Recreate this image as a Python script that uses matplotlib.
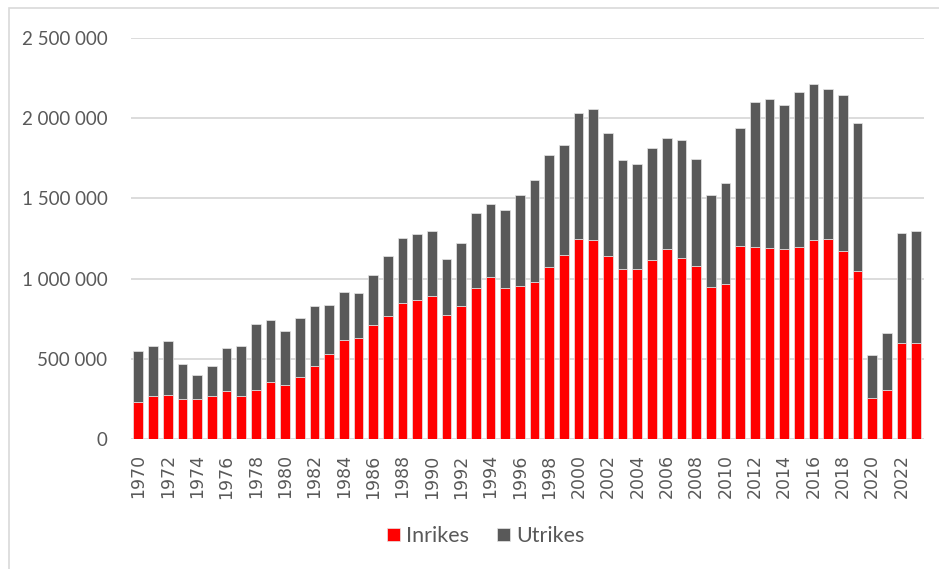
import numpy as np
import matplotlib
matplotlib.use("Agg")
import matplotlib.pyplot as plt
from matplotlib.patches import Rectangle
from matplotlib.ticker import FuncFormatter

# Passengers per year, domestic (Inrikes) and international (Utrikes) parts
YEARS = list(range(1970, 2024))
TOTAL = [546000, 578000, 612000, 470000, 397000, 454000, 569000, 578000, 718000, 745000,
         673000, 752000, 829000, 838000, 919000, 912000, 1023000, 1138000, 1256000, 1276000,
         1294000, 1122000, 1220000, 1411000, 1466000, 1430000, 1520000, 1612000, 1773000, 1836000,
         2033000, 2055000, 1908000, 1741000, 1716000, 1816000, 1878000, 1866000, 1743000, 1524000,
         1594000, 1940000, 2102000, 2121000, 2083000, 2166000, 2216000, 2179000, 2146000, 1971000,
         524000, 659000, 1287000, 1294000]
INRIKES = [233000, 266000, 276000, 248000, 248000, 266000, 298000, 271000, 305000, 357000,
           334000, 388000, 452000, 528000, 619000, 632000, 711000, 768000, 849000, 867000,
           892000, 770000, 831000, 944000, 1007000, 942000, 955000, 980000, 1073000, 1147000,
           1247000, 1242000, 1138000, 1061000, 1061000, 1119000, 1182000, 1130000, 1080000, 947000,
           964000, 1204000, 1200000, 1192000, 1182000, 1196000, 1242000, 1248000, 1169000, 1045000,
           257000, 303000, 597000, 597000]
UTRIKES = [t - i for t, i in zip(TOTAL, INRIKES)]

TEXT_COLOR = "#595959"
RED = "#FF0000"
GREY = "#595959"
GRID = "#d9d9d9"

plt.rcParams["font.family"] = ["Lato", "DejaVu Sans"]

fig = plt.figure(figsize=(9.39, 5.69), dpi=100)
W, H = 939, 569
ax = fig.add_axes([131 / W, 130 / H, 792.5 / W, 401 / H])

x = np.arange(len(YEARS))
bw = 0.66
ax.bar(x, INRIKES, width=bw, color=RED, edgecolor="#e6e6e6", linewidth=0.5,
       label="Inrikes", zorder=3)
ax.bar(x, UTRIKES, width=bw, bottom=INRIKES, color=GREY, edgecolor="#e6e6e6",
       linewidth=0.5, label="Utrikes", zorder=3)

ax.set_xlim(-0.5, len(YEARS) - 0.5)
ax.set_ylim(0, 2500000)
ax.set_yticks(np.arange(0, 2500001, 500000))
ax.yaxis.set_major_formatter(FuncFormatter(lambda v, p: f"{int(v):,}".replace(",", " ")))
ax.set_xticks(x[::2])
ax.set_xticklabels([str(y) for y in YEARS[::2]], rotation=90, family="DejaVu Sans")

ax.grid(axis="y", color=GRID, linewidth=1.3, zorder=0)
for s in ax.spines.values():
    s.set_visible(False)
ax.tick_params(axis="both", length=0, colors=TEXT_COLOR)
ax.tick_params(axis="y", pad=17, labelsize=13.5)
ax.tick_params(axis="x", pad=11, labelsize=12.5)

leg = fig.legend(loc="center", bbox_to_anchor=(486 / W, 33 / H), ncol=2, frameon=False,
                 fontsize=15.5, handlelength=0.6, handleheight=0.6, handletextpad=0.3,
                 columnspacing=1.3)
for t in leg.get_texts():
    t.set_color(TEXT_COLOR)

# light chart border
fig.patches.append(Rectangle((8.5 / W, -0.1), 1.2, 1.1 - 8.5 / H, transform=fig.transFigure,
                             fill=False, edgecolor=GRID, linewidth=1.2))

fig.savefig("out.png", dpi=100)
